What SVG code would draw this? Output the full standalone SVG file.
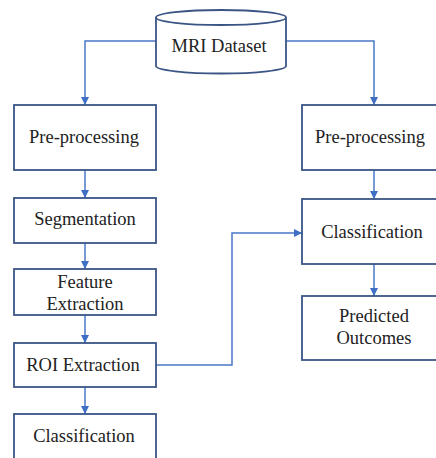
<svg xmlns="http://www.w3.org/2000/svg" width="436" height="458" viewBox="0 0 436 458" font-family="Liberation Serif">
  <style>
    .box { fill: #ffffff; stroke: #3a5585; stroke-width: 1.8; }
    .lbl { font-size: 18.5px; fill: #222222; text-anchor: middle; }
    .link { fill: none; stroke: #4a78c8; stroke-width: 1.5; }
  </style>
  <defs>
    <marker id="arrow" viewBox="0 0 10 10" refX="10" refY="5" markerWidth="8" markerHeight="8" markerUnits="userSpaceOnUse" orient="auto">
      <path d="M0,0 L10,5 L0,10 Z" fill="#3f6fc4"/>
    </marker>
  </defs>
  <rect width="436" height="458" fill="#ffffff"/>

  <g id="connectors">
    <path class="link" d="M156,41 H85 V105" marker-end="url(#arrow)"/>
    <path class="link" d="M286,41 H374 V105" marker-end="url(#arrow)"/>
    <path class="link" d="M85,170 V198" marker-end="url(#arrow)"/>
    <path class="link" d="M85,243 V269" marker-end="url(#arrow)"/>
    <path class="link" d="M85,315 V343" marker-end="url(#arrow)"/>
    <path class="link" d="M85,387 V414" marker-end="url(#arrow)"/>
    <path class="link" d="M374,170 V199" marker-end="url(#arrow)"/>
    <path class="link" d="M374,264 V296" marker-end="url(#arrow)"/>
    <path class="link" d="M156,365 H232 V233 H302" marker-end="url(#arrow)"/>
  </g>

  <g id="mri-dataset">
    <path class="box" d="M156,17.5 V66 A65,7.5 0 0 0 286,66 V17.5"/>
    <ellipse class="box" cx="221" cy="17.5" rx="65" ry="7.5"/>
    <text class="lbl" x="219" y="52" font-family="Liberation Serif">MRI Dataset</text>
  </g>

  <g id="preprocessing-left">
    <rect class="box" x="14" y="105" width="142" height="65"/>
    <text class="lbl" x="84" y="143" font-family="Liberation Serif">Pre-processing</text>
  </g>
  <g id="segmentation">
    <rect class="box" x="14" y="198" width="142" height="45"/>
    <text class="lbl" x="85" y="225" font-family="Liberation Serif">Segmentation</text>
  </g>
  <g id="feature-extraction">
    <rect class="box" x="14" y="269" width="142" height="46"/>
    <text class="lbl" x="85" y="288" font-family="Liberation Serif">Feature</text>
    <text class="lbl" x="85" y="310" font-family="Liberation Serif">Extraction</text>
  </g>
  <g id="roi-extraction">
    <rect class="box" x="14" y="343" width="142" height="44"/>
    <text class="lbl" x="83" y="371" font-family="Liberation Serif">ROI Extraction</text>
  </g>
  <g id="classification-left">
    <rect class="box" x="14" y="414" width="142" height="60"/>
    <text class="lbl" x="84" y="442" font-family="Liberation Serif">Classification</text>
  </g>

  <g id="preprocessing-right">
    <rect class="box" x="302" y="105" width="142" height="65"/>
    <text class="lbl" x="370" y="143" font-family="Liberation Serif">Pre-processing</text>
  </g>
  <g id="classification-right">
    <rect class="box" x="302" y="199" width="142" height="65"/>
    <text class="lbl" x="372" y="238" font-family="Liberation Serif">Classification</text>
  </g>
  <g id="predicted-outcomes">
    <rect class="box" x="302" y="296" width="142" height="64"/>
    <text class="lbl" x="374" y="322" font-family="Liberation Serif">Predicted</text>
    <text class="lbl" x="374" y="344" font-family="Liberation Serif">Outcomes</text>
  </g>
</svg>
